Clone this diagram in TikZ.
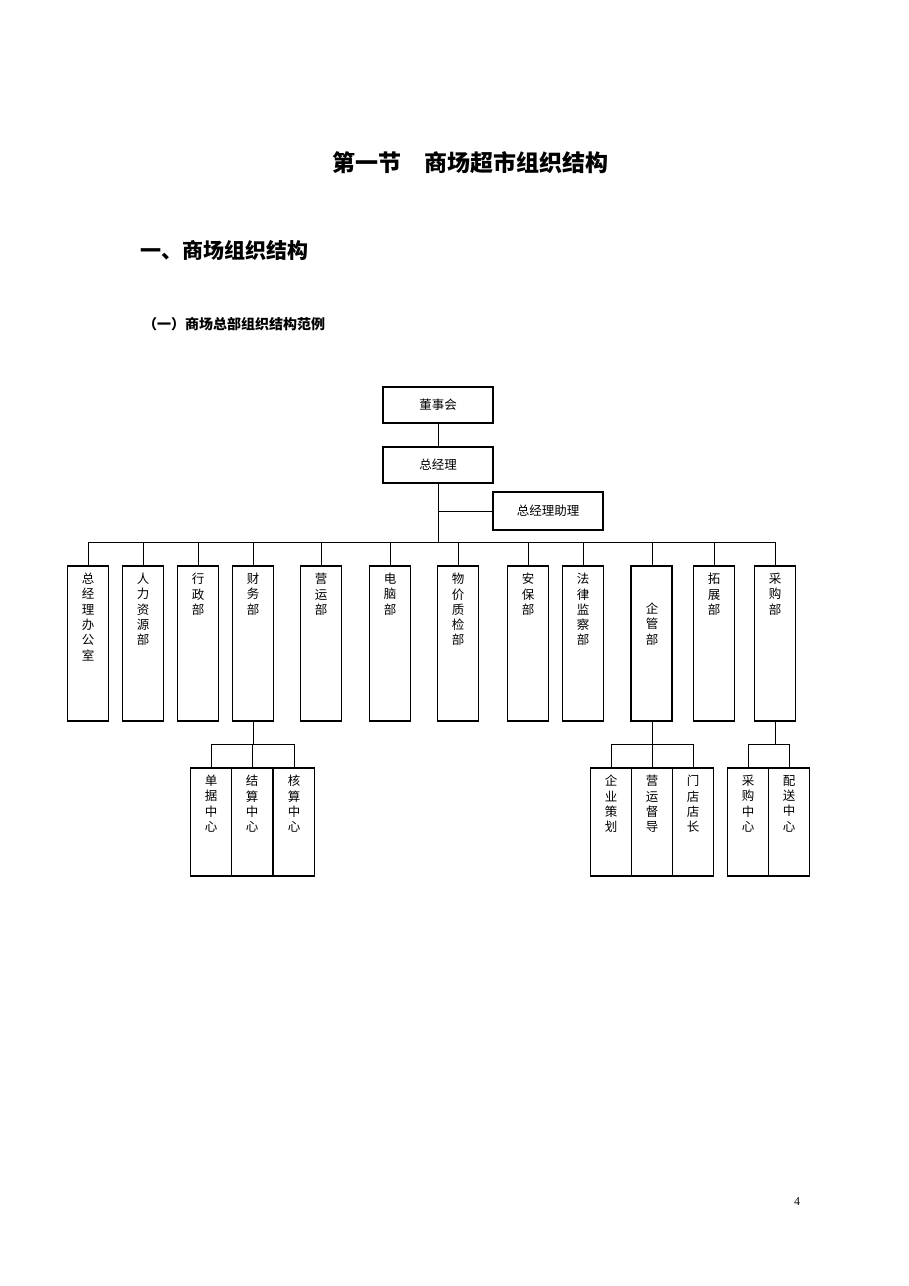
\documentclass[tikz,border=0pt]{standalone}
\usepackage{fontspec}
\setmainfont{Liberation Serif}
\newfontfamily\cjk{Noto Sans CJK SC}
\begin{document}
\begin{tikzpicture}[x=1pt,y=-1pt,
  box/.style={draw,line width=1.2pt},
  ln/.style={line width=1pt},
  vtxt/.style={anchor=north,align=center,inner sep=0pt,font=\cjk\fontsize{12.5}{15.3}\selectfont},
  htxt/.style={font=\cjk\fontsize{12.5}{15}\selectfont}]
\useasboundingbox (0,0) rectangle (909,1286);
\node[font=\cjk\bfseries\fontsize{23}{26}\selectfont] (t1) at (470,163) {第一节\quad 商场超市组织结构};
\node[anchor=west,inner sep=0pt,font=\cjk\bfseries\fontsize{21}{24}\selectfont] (t2) at (140,250) {一、商场组织结构};
\node[anchor=west,inner sep=0pt,font=\cjk\bfseries\fontsize{14}{16}\selectfont] (t3) at (143,324) {（一）商场总部组织结构范例};
\node[font=\fontsize{12}{14}\selectfont] (pg) at (797,1202) {4};
% top
\draw[box] (383,387) rectangle (493,423); \node[htxt] (dsh) at (438,405) {董事会};
\draw[box] (383,447) rectangle (493,483); \node[htxt] (zjl) at (438,465) {总经理};
\draw[box] (493,492) rectangle (603,530); \node[htxt] (zl) at (548,511) {总经理助理};
\coordinate (a1) at (438,423); \coordinate (a2) at (438,447);
\coordinate (a3) at (438,483); \coordinate (a4) at (438,542);
\coordinate (a5) at (438,511); \coordinate (a6) at (493,511);
\draw[ln] (a1)--(a2) (a3)--(a4) (a5)--(a6);
\coordinate (bl) at (88,542); \coordinate (br) at (775,542);
\draw[ln] (bl)--(br);
% departments
\foreach \c/\t/\n in {88/总\\经\\理\\办\\公\\室/d1,143/人\\力\\资\\源\\部/d2,198/行\\政\\部/d3,253/财\\务\\部/d4,321/营\\运\\部/d5,390/电\\脑\\部/d6,458/物\\价\\质\\检\\部/d7,528/安\\保\\部/d8,583/法\\律\\监\\察\\部/d9,714/拓\\展\\部/d11,775/采\\购\\部/d12}{
  \draw[box] (\c-20.5,566) rectangle (\c+20.5,721);
  \node[vtxt] (\n) at (\c,573) {\t};
  \draw[ln] (\c,542)--(\c,566);
}
\draw[box] (631,566) rectangle (672,721);
\node[vtxt,anchor=center] (d10) at (652,624) {企\\管\\部};
\draw[ln] (652,542)--(652,566);
% sub groups
\foreach \c/\t/\n in {211/单\\据\\中\\心/s1,252/结\\算\\中\\心/s2,294/核\\算\\中\\心/s3,611/企\\业\\策\\划/s4,652/营\\运\\督\\导/s5,693/门\\店\\店\\长/s6,748/采\\购\\中\\心/s7,789/配\\送\\中\\心/s8}{
  \draw[box] (\c-20.5,768) rectangle (\c+20.5,876);
  \node[vtxt] (\n) at (\c,775) {\t};
  \draw[ln] (\c,744)--(\c,768);
}
\draw[ln] (253,721)--(253,744) (211,744)--(294,744);
\draw[ln] (652,721)--(652,744) (611,744)--(693,744);
\draw[ln] (775,721)--(775,744) (748,744)--(789,744);
\end{tikzpicture}
\end{document}
